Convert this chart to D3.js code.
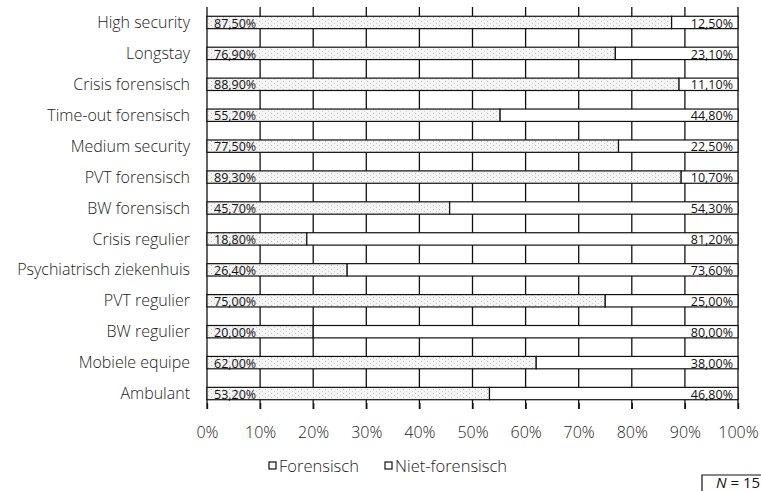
<!DOCTYPE html>
<html>
<head>
<meta charset="utf-8">
<script src="https://cdn.jsdelivr.net/npm/d3@7"></script>
<style>
  body { margin: 0; background: #fff; }
  svg { display: block; font-family: "Open Sans", Lato, sans-serif; }
</style>
</head>
<body>
<div id="container"></div>
<script>
// categories, top to bottom
var categories = ["High security", "Longstay", "Crisis forensisch", "Time-out forensisch",
                  "Medium security", "PVT forensisch", "BW forensisch", "Crisis regulier",
                  "Psychiatrisch ziekenhuis", "PVT regulier", "BW regulier", "Mobiele equipe",
                  "Ambulant"];
// percentages
var forensisch = [87.5, 76.9, 88.9, 55.2, 77.5, 89.3, 45.7, 18.8, 26.4, 75.0, 20.0, 62.0, 53.2];
var nietForensisch = [12.5, 23.1, 11.1, 44.8, 22.5, 10.7, 54.3, 81.2, 73.6, 25.0, 80.0, 38.0, 46.8];
var seriesNames = ["Forensisch", "Niet-forensisch"];
var xTicks = [0, 10, 20, 30, 40, 50, 60, 70, 80, 90, 100];

var width = 761, height = 491;
var fmt = function (v) { return v.toFixed(2).replace(".", ",") + "%"; };

var svg = d3.select("#container").append("svg")
  .attr("width", width)
  .attr("height", height);

// speckled grey fill like the scanned original
var defs = svg.append("defs");
var pat = defs.append("pattern")
  .attr("id", "speckle")
  .attr("width", 6).attr("height", 4)
  .attr("patternUnits", "userSpaceOnUse");
pat.append("rect").attr("width", 6).attr("height", 4).attr("fill", "#f4f4f4");
pat.append("rect").attr("x", 1).attr("y", 1).attr("width", 1).attr("height", 1).attr("fill", "#bdbdbd");
pat.append("rect").attr("x", 4).attr("y", 3).attr("width", 1).attr("height", 1).attr("fill", "#cfcfcf");

var x = d3.scaleLinear().domain([0, 100]).range([207, 738]);
var y = d3.scaleBand().domain(categories).range([7, 409]).paddingInner(0.6).paddingOuter(0.3);

// vertical grid lines
svg.append("g").selectAll("line")
  .data(xTicks.slice(1))
  .enter().append("line")
  .attr("x1", function (d) { return x(d); })
  .attr("x2", function (d) { return x(d); })
  .attr("y1", 7).attr("y2", 409)
  .attr("stroke", "#111")
  .attr("stroke-width", 1.3);

// left axis line
svg.append("line")
  .attr("x1", x(0)).attr("x2", x(0))
  .attr("y1", 7).attr("y2", 409)
  .attr("stroke", "#111").attr("stroke-width", 1.3);

// bars
var rows = categories.map(function (c, i) {
  return { cat: c, f: forensisch[i], n: nietForensisch[i] };
});

var bars = svg.append("g").selectAll("g")
  .data(rows)
  .enter().append("g");

bars.append("rect")
  .attr("x", x(0))
  .attr("y", function (d) { return y(d.cat); })
  .attr("width", function (d) { return x(d.f) - x(0); })
  .attr("height", y.bandwidth())
  .attr("fill", "url(#speckle)")
  .attr("stroke", "#111")
  .attr("stroke-width", 1.2);

bars.append("rect")
  .attr("x", function (d) { return x(d.f); })
  .attr("y", function (d) { return y(d.cat); })
  .attr("width", function (d) { return x(d.f + d.n) - x(d.f); })
  .attr("height", y.bandwidth())
  .attr("fill", "#fff")
  .attr("stroke", "#111")
  .attr("stroke-width", 1.2);

// value labels
bars.append("text")
  .attr("x", x(0) + 7)
  .attr("y", function (d) { return y(d.cat) + y.bandwidth() - 1; })
  .attr("font-size", 12.5)
  .attr("fill", "#111")
  .text(function (d) { return fmt(d.f); });

bars.append("text")
  .attr("x", x(100) - 5)
  .attr("y", function (d) { return y(d.cat) + y.bandwidth() - 1; })
  .attr("text-anchor", "end")
  .attr("font-size", 12.5)
  .attr("fill", "#111")
  .text(function (d) { return fmt(d.n); });

// category labels
svg.append("g").selectAll("text")
  .data(categories)
  .enter().append("text")
  .attr("x", 190)
  .attr("y", function (d) { return y(d) + y.bandwidth() / 2; })
  .attr("dy", "0.35em")
  .attr("text-anchor", "end")
  .attr("font-size", 16)
  .attr("font-weight", 300)
  .attr("fill", "#222")
  .text(function (d) { return d; });

// x axis (ticks + labels)
var xAxis = d3.axisBottom(x)
  .tickValues(xTicks)
  .tickSize(6)
  .tickPadding(18)
  .tickFormat(function (d) { return d + "%"; });
var ax = svg.append("g")
  .attr("transform", "translate(0,403)")
  .call(xAxis);
ax.select(".domain").remove();
ax.selectAll(".tick line").attr("stroke", "#111").attr("stroke-width", 1.3);
ax.selectAll(".tick text")
  .attr("font-size", 16)
  .attr("font-weight", 300)
  .attr("font-family", "'Open Sans', Lato, sans-serif")
  .attr("fill", "#222");

// legend
var legendX = [269, 385];
var legend = svg.append("g").selectAll("g")
  .data(seriesNames)
  .enter().append("g")
  .attr("transform", function (d, i) { return "translate(" + legendX[i] + ",462)"; });
legend.append("rect")
  .attr("width", 7).attr("height", 7)
  .attr("fill", function (d, i) { return i === 0 ? "#f6f6f6" : "#fff"; })
  .attr("stroke", "#111").attr("stroke-width", 1.2);
legend.append("text")
  .attr("x", 10)
  .attr("y", 4)
  .attr("dy", "0.35em")
  .attr("font-size", 16.5)
  .attr("font-weight", 300)
  .attr("fill", "#222")
  .text(function (d) { return d; });

// N box (cut off at the page edge)
svg.append("path")
  .attr("d", "M702,491 V475 H761")
  .attr("fill", "none")
  .attr("stroke", "#111")
  .attr("stroke-width", 1.2);
var nText = svg.append("text")
  .attr("x", 716)
  .attr("y", 488)
  .attr("font-size", 15)
  .attr("fill", "#111");
nText.append("tspan").attr("font-style", "italic").text("N");
nText.append("tspan").text(" = 15");
</script>
</body>
</html>
